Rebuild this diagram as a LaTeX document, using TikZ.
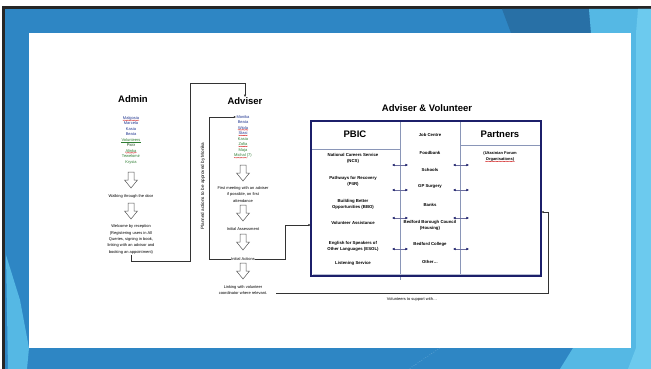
\documentclass[tikz,border=0pt]{standalone}
\usepackage{fontspec}
\setmainfont{Liberation Sans}
\usetikzlibrary{arrows.meta,decorations.pathmorphing,calc}
\definecolor{slideblue}{HTML}{2E86C4}
\definecolor{darkband}{HTML}{2870A6}
\definecolor{lightband}{HTML}{55B8E4}
\definecolor{lighterband}{HTML}{6CCAEE}
\definecolor{namblue}{HTML}{1F3590}
\definecolor{namgreen}{HTML}{2E7D32}
\definecolor{navy}{HTML}{1C1F6A}
\definecolor{divgray}{HTML}{8A96B8}
\definecolor{arrowgray}{HTML}{555555}
\tikzset{
  title/.style={font=\fontsize{9.5}{11}\selectfont\bfseries, inner sep=0pt},
  nm/.style={font=\fontsize{4}{4.5}\selectfont, inner sep=0pt},
  flow/.style={font=\fontsize{4}{6.4}\selectfont, align=center, inner sep=0.5pt},
  item/.style={font=\fontsize{4.3}{6.2}\selectfont\bfseries, align=center, inner sep=0pt},
  conn/.style={draw=black!80, line width=0.6pt},
  tipconn/.style={conn, -{Latex[length=2.6pt,width=2.2pt]}},
  biarrow/.style={draw=navy!65, line width=0.8pt, {Latex[length=2.6pt,width=2.6pt,fill=navy,color=navy]}-{Latex[length=2.6pt,width=2.6pt,fill=navy,color=navy]}},
  wavy/.style={draw=red!80!black, line width=0.25pt, decorate, decoration={snake, amplitude=0.3pt, segment length=1.4pt}},
  hollow/.pic={\draw[arrowgray, line width=0.5pt, fill=white] (-3,0) -- (3,0) -- (3,8) -- (6.5,8) -- (0,16) -- (-6.5,8) -- (-3,8) -- cycle;}
}
\begin{document}
\begin{tikzpicture}[x=1pt,y=-1pt]
\useasboundingbox (0,0) rectangle (651,369);
% slide background
\fill[white] (0,0) rectangle (651,369);
\fill[black!85] (2,6) rectangle (651,369);
\fill[slideblue] (5,9) rectangle (651,369);
\fill[darkband] (502,9) -- (589,9) -- (591,33) -- (511,33) -- cycle;
\fill[lightband] (589,9) -- (651,9) -- (651,369) -- (560,369) -- (573,348) -- (631,348) -- (631,33) -- (591,33) -- cycle;
\fill[lighterband] (638,9) -- (651,9) -- (651,369) -- (628,369) -- (636,348) -- (636,33) -- cycle;
\fill[lightband] (6,255) -- (20,300) -- (29,348) -- (27,369) -- (8,369) -- cycle;
\draw[white!75!slideblue, line width=0.4pt, dotted] (440,348) -- (409,369);
\fill[white] (29,33) rectangle (631,348);

% ---------- Admin column ----------
\node[title] (admin) at (133,99) {Admin};
\node[nm, namblue] (a1) at (131,118) {Malgosia};
\node[nm, namblue] (a2) at (131,123.5) {Marcela};
\node[nm, namblue] (a3) at (131,129) {Kasia};
\node[nm, namblue] (a4) at (131,134.5) {Beata};
\node[nm, namgreen] (a5) at (131,140) {Volunteers};
\node[nm, namgreen!60!black] (a6) at (131,145.5) {Piotr};
\node[nm, namgreen] (a7) at (131,151) {Alinka};
\node[nm, namgreen] (a8) at (131,156.5) {Tewelomir};
\node[nm, namgreen] (a9) at (131,162) {Krysia};
\draw[wavy] ([yshift=-0.2pt]a1.south west) -- ([yshift=-0.2pt]a1.south east);
\draw[namgreen, line width=0.3pt] ([yshift=-0.2pt]a5.south west) -- ([yshift=-0.2pt]a5.south east);
\draw[wavy] ([yshift=-0.2pt]a7.south west) -- ([yshift=-0.2pt]a7.south east);

\pic at (131,172) {hollow};
\node[flow] (walk) at (131,196) {Walking through the door};
\pic at (131,203) {hollow};
\node[flow] (welcome) at (131,239.5) {Welcome by reception\\(Registering users in All\\Queries, signing in book,\\linking with an advisor and\\booking an appointment)};

% ---------- Adviser column ----------
\node[title] (adviser) at (245,101) {Adviser};
\node[nm, namblue] (b1) at (243,117) {Monika};
\node[nm, namblue] (b2) at (243,122.5) {Beata};
\node[nm, namblue] (b3) at (243,128) {Wiola};
\node[nm, namblue] (b4) at (243,133.5) {Stasi};
\node[nm, namgreen] (b5) at (243,139) {Kasia};
\node[nm, namgreen] (b6) at (243,144.5) {Zofia};
\node[nm, namgreen] (b7) at (243,150) {Maja};
\node[nm, namgreen] (b8) at (243,155.5) {Michal (7)};
\draw[wavy] ([yshift=-0.2pt]b3.south west) -- ([yshift=-0.2pt]b3.south east);
\draw[wavy] ([yshift=-0.2pt]b4.south west) -- ([yshift=-0.2pt]b4.south east);
\draw[wavy] ([yshift=-0.2pt]b6.south west) -- ([yshift=-0.2pt]b6.south east);
\draw[wavy] ([yshift=-0.2pt]b8.south west) -- ([yshift=-0.2pt,xshift=-4.5pt]b8.south east);

\pic at (243,165) {hollow};
\node[flow] (first) at (243,194.5) {First meeting with an adviser\\if possible, on first\\attendance};
\pic at (243,205) {hollow};
\node[flow] (assess) at (243,229) {Initial Assessment};
\pic at (243,234) {hollow};
\node[flow] (actions) at (243,259) {Initial Actions};
\pic at (243,263) {hollow};
\node[flow] (linking) at (243,290) {Linking with volunteer\\coordinator where relevant.};

\node[flow, rotate=90, font=\fontsize{4.6}{5}\selectfont] (planned) at (203,186) {Planned actions to be approved by Monika};

% ---------- Adviser & Volunteer box ----------
\node[title] (avtitle) at (427,108) {Adviser \& Volunteer};
\coordinate (boxnw) at (311,121);
\coordinate (boxse) at (541,276);
\draw[divgray, line width=0.6pt] (400,121) -- (400,280);
\draw[divgray, line width=0.6pt] (460,121) -- (460,276);
\draw[divgray, line width=0.6pt] (311,149) -- (400,149);
\draw[divgray, line width=0.6pt] (460,145) -- (541,145);
\draw[navy, line width=1.5pt] (boxnw) rectangle (boxse);
\draw[divgray!60, line width=0.4pt] (312.5,274) -- (539.5,274);

\node[title] (pbic) at (355,134) {PBIC};
\node[title] (partners) at (500,134) {Partners};
\node[item, font=\fontsize{4}{6}\selectfont\bfseries] (ukr) at (500,156) {(Ukrainian Forum\\Organisations)};
\draw[wavy] ([yshift=-0.3pt,xshift=2pt]ukr.south west) -- ([yshift=-0.3pt,xshift=-2pt]ukr.south east);

\node[item] (ncs) at (353,158) {National Careers Service\\(NCS)};
\node[item] (p4r) at (353,181) {Pathways for Recovery\\(P4R)};
\node[item] (bbo) at (353,204) {Building Better\\Opportunities (BBO)};
\node[item] (va) at (353,223) {Volunteer Assistance};
\node[item] (esol) at (353,246) {English for Speakers of\\Other Languages (ESOL)};
\node[item] (ls) at (353,263) {Listening Service};

\node[item] (jc) at (430,135) {Job Centre};
\node[item] (fb) at (430,153) {Foodbank};
\node[item] (sch) at (430,170) {Schools};
\node[item] (gp) at (430,186) {GP Surgery};
\node[item] (bank) at (430,205) {Banks};
\node[item] (bbc) at (430,225) {Bedford Borough Council\\(Housing)};
\node[item] (bc) at (430,244) {Bedford College};
\node[item] (oth) at (430,262) {Other\dots};

\foreach \yy [count=\i] in {165,190,218,249}{
  \coordinate (l\i a) at (392,\yy); \coordinate (l\i b) at (408,\yy);
  \coordinate (r\i a) at (453,\yy); \coordinate (r\i b) at (469,\yy);
  \draw[biarrow] (l\i a) -- (l\i b);
  \draw[biarrow] (r\i a) -- (r\i b);
}

\node[flow] (volsup) at (412,299) {Volunteers to support with\dots};

% ---------- connectors ----------
\coordinate (lnkend) at (276,293);
\draw[tipconn] (welcome.south) -- ++(0,6) -| (190,83) -| (adviser.north);
\draw[tipconn] (actions.west) -- (209,259) |- (b1.west);
\draw[tipconn] (actions.east) -- (285,259) |- (311,225);
\draw[tipconn] (lnkend) -- (548,293) |- (541,212);
\end{tikzpicture}
\end{document}
